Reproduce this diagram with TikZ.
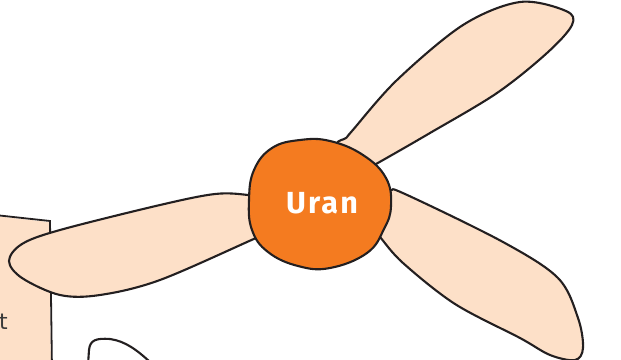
\documentclass[tikz,border=0pt]{standalone}
\usepackage{fontspec}
\newfontfamily\labelfont[LetterSpace=7]{Fira Sans}
\newfontfamily\sidefont{DejaVu Sans}
\definecolor{peach}{HTML}{FDE0C8}
\definecolor{orangeblob}{HTML}{F47B20}
\definecolor{ink}{HTML}{231F20}
\definecolor{txtgray}{HTML}{3A3A3A}
\tikzset{
  outline/.style={draw=ink, line width=2.1pt, line join=round},
  petal/.style={outline, fill=peach},
  center/.style={outline, fill=orangeblob},
}
\begin{document}
\begin{tikzpicture}[x=1pt,y=-1pt]
\useasboundingbox (0,0) rectangle (621,359);
\clip (0,0) rectangle (621,359);
% side box at the left
\path[fill=peach] (-5,216) -- (49,222) -- (51,370) -- (-5,370) -- cycle;
\draw[draw=ink, line width=1.8pt] (-5,215) -- (50,221) -- (52,370);
\node[font=\sidefont\fontsize{22}{24}\selectfont, text=txtgray, anchor=base east, inner sep=0pt] (sidetext) at (8,329) {t};
% bottom curve
\draw[draw=ink, line width=2.1pt] (88,365) -- (89,350) .. controls (90,340) and (96,338) .. (110,339) .. controls (125,341) and (137,350) .. (150,362);
% up-right petal
\path[petal] plot[smooth, tension=0.55] coordinates {(345,165) (337,144) (346,138) (352,131) (397,80) (463,25) (520,2) (566,11) (572,25) (547,53) (497,93) (430,133) (376,164) (360,172)} -- cycle;
% left petal
\path[petal] plot[smooth, tension=0.55] coordinates {(270,200) (248,195) (215,194) (160,205) (60,230) (22,244) (9,261) (22,278) (60,295) (100,295) (160,280) (256,238) (275,230)} -- cycle;
% down-right petal
\path[petal] plot[smooth, tension=0.55] coordinates {(375,200) (390,191) (405,194) (503,242) (558,278) (578,318) (583,348) (575,360) (550,355) (520,338) (455,304) (403,263) (380,237) (370,225)} -- cycle;
% center blob
\path[center] plot[smooth cycle, tension=0.7] coordinates {(249,200) (254,170) (272,148) (300,140) (330,141) (363,155) (386,178) (391,206) (384,229) (367,253) (330,268) (298,266) (268,252) (252,230)};
\node[font=\labelfont\bfseries\fontsize{30.5}{32}\selectfont, text=white, inner sep=0pt] (uran) at (322,203) {Uran};
\end{tikzpicture}
\end{document}
